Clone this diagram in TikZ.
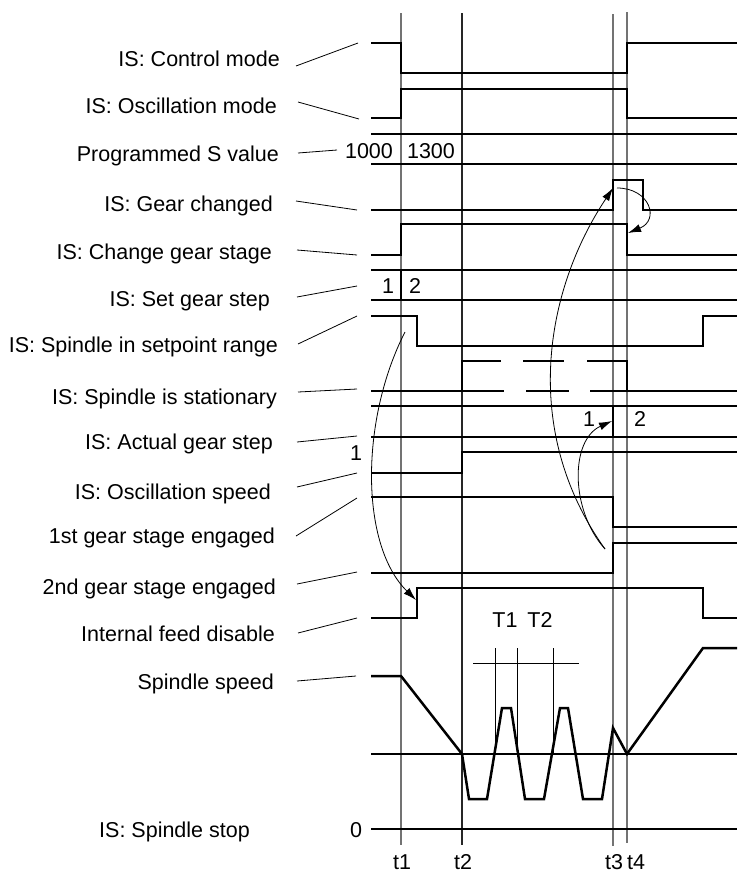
\documentclass[tikz,border=0pt]{standalone}
\usepackage{fontspec}
\setmainfont{Liberation Sans}
\usetikzlibrary{arrows.meta}

\begin{document}
\begin{tikzpicture}[x=1pt, y=-1pt,
    sig/.style={line width=2.5pt, line join=miter},
    lead/.style={line width=0.8pt},
    tline/.style={black!55, line width=1.1pt},
    lbl/.style={anchor=base east, inner sep=0pt, font=\fontsize{21.5}{24}\selectfont},
    val/.style={anchor=base, inner sep=0pt, font=\fontsize{21.5}{24}\selectfont},
    cause/.style={line width=0.8pt, -{Latex[length=13pt, width=8pt]}}]
  \useasboundingbox (0,0) rectangle (737,873);

  % time marks
  \draw[tline] (401,13) -- (401,845);
  \draw[tline, black!85] (462,13) -- (462,845);
  \draw[tline] (613,14) -- (613,846);
  \draw[tline] (627,12) -- (627,843);
  \node[val] (t1) at (402,869) {t1};
  \node[val] (t2) at (463,869) {t2};
  \node[val] (t3) at (614,869) {t3};
  \node[val] (t4) at (636,869) {t4};

  % signal names
  \node[lbl] (lctrl) at (280,66) {IS: Control mode};
  \node[lbl] (losc) at (277,113) {IS: Oscillation mode};
  \node[lbl] (lsval) at (279,161) {Programmed S value};
  \node[lbl] (lgchg) at (273,211) {IS: Gear changed};
  \node[lbl] (lcgs) at (272,259) {IS: Change gear stage};
  \node[lbl] (lsgs) at (270,306) {IS: Set gear step};
  \node[lbl] (lsrng) at (278,352) {IS: Spindle in setpoint range};
  \node[lbl] (lstat) at (277,404) {IS: Spindle is stationary};
  \node[lbl] (lags) at (273,449) {IS: Actual gear step};
  \node[lbl] (lospd) at (271,499) {IS: Oscillation speed};
  \node[lbl] (lgA) at (275,543) {1st gear stage engaged};
  \node[lbl] (lgB) at (276,594) {2nd gear stage engaged};
  \node[lbl] (lfeed) at (275,641) {Internal feed disable};
  \node[lbl] (lspd) at (274,689) {Spindle speed};
  \node[lbl] (lstop) at (250,837) {IS: Spindle stop};

  % leaders
  \draw[lead] (296,66) -- (358,43);
  \draw[lead] (298,102) -- (359,119);
  \draw[lead] (298,153) -- (337,150);
  \draw[lead] (296,201) -- (357,210);
  \draw[lead] (297,250) -- (357,255);
  \draw[lead] (297,297) -- (357,286);
  \draw[lead] (298,344) -- (357,316);
  \draw[lead] (298,392) -- (357,389);
  \draw[lead] (297,442) -- (357,436);
  \draw[lead] (297,487) -- (357,473);
  \draw[lead] (296,536) -- (357,498);
  \draw[lead] (297,584) -- (357,572);
  \draw[lead] (298,633) -- (357,618);
  \draw[lead] (297,681) -- (356,676);

  % signals
  \draw[sig] (371,43) -- (401,43) -- (401,73) -- (627,73) -- (627,43) -- (737,43);
  \draw[sig] (371,118) -- (401,118) -- (401,89) -- (627,89) -- (627,118) -- (737,118);
  \draw[sig] (371,134) -- (737,134) (371,164) -- (737,164);
  \node[val] (sold) at (369,158) {1000};
  \node[val] (snew) at (431,158) {1300};
  \draw[sig] (371,210) -- (613,210) -- (613,180) -- (643,180) -- (643,210) -- (737,210);
  \draw[sig] (371,255) -- (401,255) -- (401,224) -- (627,224) -- (627,255) -- (737,255);
  \draw[sig] (371,270) -- (737,270) (371,300) -- (737,300) (401,270) -- (401,300);
  \node[val] (sgA) at (388,293) {1};
  \node[val] (sgB) at (415,293) {2};
  \draw[sig] (371,316) -- (417,316) -- (417,346) -- (703,346) -- (703,316) -- (737,316);
  \draw[sig] (371,391) -- (504,391) (526,391) -- (569,391) (590,391) -- (737,391);
  \draw[sig] (462,391) -- (462,361) -- (501,361) (523,361) -- (564,361)
    (587,361) -- (627,361) -- (627,391);
  \draw[sig] (371,406) -- (737,406) (371,437) -- (737,437) (613,406) -- (613,437);
  \node[val] (agA) at (589,426) {1};
  \node[val] (agB) at (640,426) {2};
  \draw[sig] (371,473) -- (462,473) -- (462,452) -- (737,452);
  \draw[sig] (371,497) -- (613,497) -- (613,527) -- (737,527);
  \draw[sig] (371,573) -- (613,573) -- (613,543) -- (737,543);
  \draw[sig] (371,618) -- (417,618) -- (417,588) -- (703,588) -- (703,618) -- (737,618);

  % spindle speed
  \draw[sig] (371,754) -- (737,754);
  \draw[sig] (371,676) -- (401,676) -- (462,754) -- (469,799) -- (487,799) -- (502,708)
    -- (511,708) -- (525,799) -- (544,799) -- (560,708) -- (568,708) -- (583,799)
    -- (602,799) -- (613,728) -- (627,754) -- (703,648) -- (737,648);
  \draw[lead] (473,663) -- (579,663);
  \draw[lead] (495,648) -- (495,754) (517,648) -- (517,754) (553,648) -- (553,754);
  \node[val] (pA) at (505,627) {T1};
  \node[val] (pB) at (540,627) {T2};
  \draw[line width=1.2pt] (371,829) -- (737,829);
  \node[val] (zero) at (356,837) {0};

  % causes
  \coordinate (rngfall) at (405,332);
  \coordinate (feedrise) at (416,600);
  \coordinate (gswap) at (605,549);
  \coordinate (gchrise) at (613,188);
  \coordinate (agrise) at (612,421);
  \coordinate (gchfall) at (617,188);
  \coordinate (cgsfall) at (628,233);
  \draw[cause] (rngfall) .. controls (360,420) and (360,545) .. (feedrise);
  \node[val] (cA) at (356,460) {1};
  \draw[cause] (gswap) .. controls (520,430) and (545,290) .. (gchrise);
  \draw[cause] (gswap) .. controls (570,510) and (570,440) .. (agrise);
  \draw[cause] (gchfall) .. controls (650,188) and (660,220) .. (cgsfall);
\end{tikzpicture}
\end{document}
